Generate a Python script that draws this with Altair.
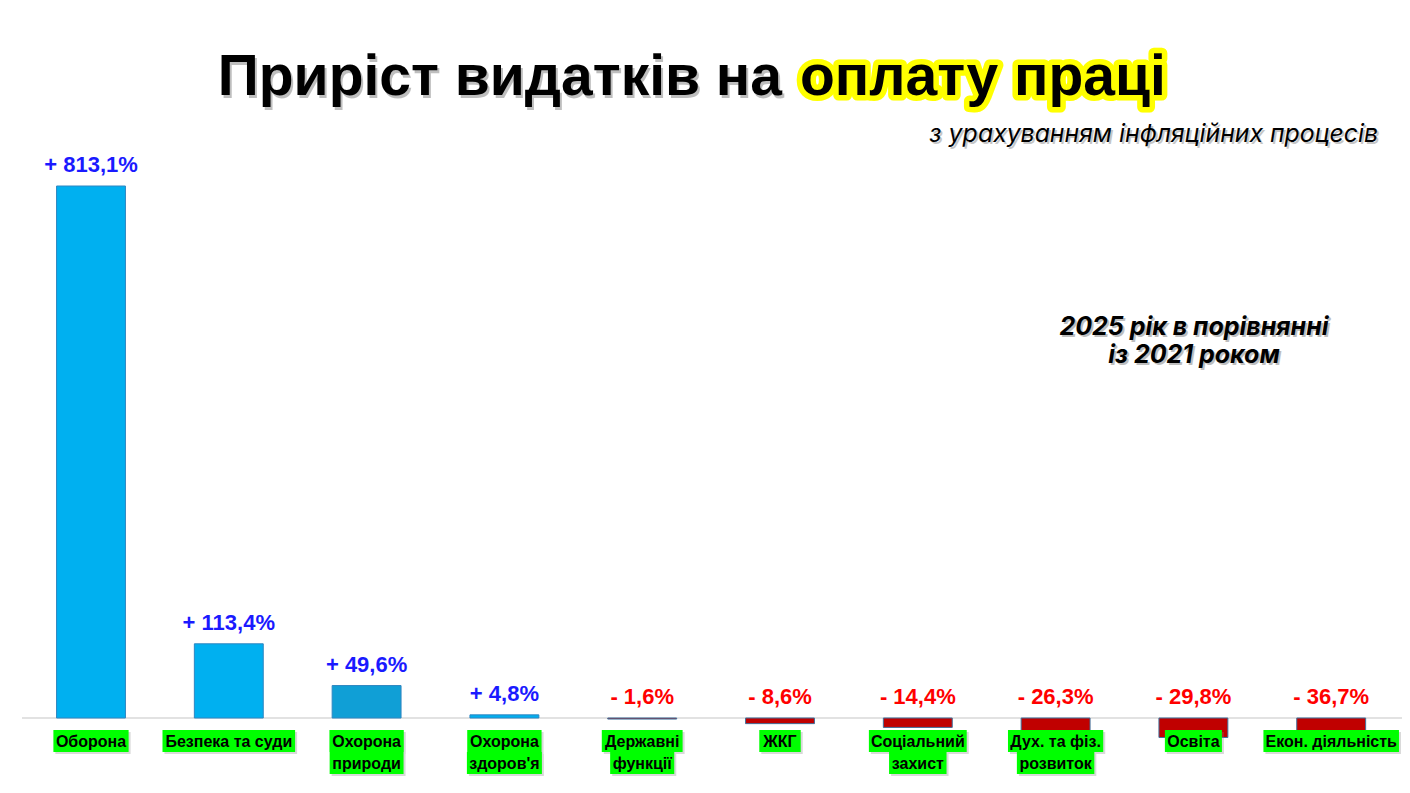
import altair as alt
import pandas as pd

# ---------------- data ----------------
categories = ["Оборона", "Безпека та суди", "Охорона природи", "Охорона здоров'я",
              "Державні функції", "ЖКГ", "Соціальний захист", "Дух. та фіз. розвиток",
              "Освіта", "Екон. діяльність"]
label_lines = [["Оборона"], ["Безпека та суди"], ["Охорона", "природи"], ["Охорона", "здоров'я"],
               ["Державні", "функції"], ["ЖКГ"], ["Соціальний", "захист"], ["Дух. та фіз.", "розвиток"],
               ["Освіта"], ["Екон. діяльність"]]
values = [813.1, 113.4, 49.6, 4.8, -1.6, -8.6, -14.4, -26.3, -29.8, -36.7]
value_labels = ["+ 813,1%", "+ 113,4%", "+ 49,6%", "+ 4,8%", "- 1,6%", "- 8,6%",
                "- 14,4%", "- 26,3%", "- 29,8%", "- 36,7%"]
bar_colors = ["#00b0f0", "#00b0f0", "#109fd6", "#00b0f0", "#c00000", "#c00000",
              "#c00000", "#c00000", "#c00000", "#c00000"]
title_main = "Приріст видатків на"
title_highlight = "оплату праці"
subtitle = "з урахуванням інфляційних процесів"
note_lines = ["2025 рік в порівнянні", "із 2021 роком"]

# ---------------- layout / style ----------------
W, H = 1394, 777
STEP = 137.8                      # px per category
X0 = -(91 - 8) / STEP
xs = alt.Scale(domain=[X0, X0 + W / STEP], nice=False, zero=False)
PX_PER_UNIT = (718 - 186) / 813.1
Y_TOP = 813.1 + (186 - 8) / PX_PER_UNIT
Y_BOT = -(785 - 718) / PX_PER_UNIT
ys = alt.Scale(domain=[Y_BOT, Y_TOP], nice=False, zero=False)

SANS = "Liberation Sans, Arial, sans-serif"
INTER = "Inter, Roboto, sans-serif"

EM = {"О": .778, "Б": .722, "Е": .667, "Д": .722, "Ж": .944, "К": .722, "Г": .611, "С": .722,
      "а": .556, "б": .611, "в": .584, "г": .41, "д": .64, "е": .556, "ж": .82, "з": .5,
      "и": .611, "й": .611, "к": .5, "л": .611, "м": .72, "н": .611, "о": .611, "п": .611,
      "р": .611, "с": .556, "т": .5, "у": .556, "ф": .86, "х": .556, "ц": .611, "ч": .58,
      "ь": .58, "ю": .86, "я": .58, "і": .278, "ї": .278, " ": .278, ".": .278, "'": .238}


def text_px(s, size):
    return sum(EM.get(ch, 0.6) for ch in s) * size


df = pd.DataFrame({
    "idx": list(range(len(categories))),
    "cat": categories,
    "value": values,
    "vlabel": value_labels,
    "fill": bar_colors,
})
df["stroke"] = ["#2e86c1" if v > 0 else "#41719c" for v in values]
df["tcolor"] = ["#1a1aff" if v > 0 else "#ff0000" for v in values]

rows = []
for i, lines in enumerate(label_lines):
    for j, t in enumerate(lines):
        half = (text_px(t, 16) + 5) / 2 / STEP
        rows.append({"idx": i, "line": j + 1, "text": t, "bx0": i - half, "bx1": i + half})
ldf = pd.DataFrame(rows)

base = alt.Chart(df)

bars = base.mark_bar(strokeWidth=1).encode(
    x=alt.X("x0:Q", scale=xs, axis=None),
    x2="x1:Q",
    y=alt.Y("value:Q", scale=ys, axis=None),
    y2="zero:Q",
    color=alt.Color("fill:N", scale=None),
    stroke=alt.Stroke("stroke:N", scale=None),
).transform_calculate(x0="datum.idx - 0.25", x1="datum.idx + 0.25", zero="0")

zero_line = alt.Chart(pd.DataFrame({"z": [0]})).mark_rule(color="#d9d9d9", strokeWidth=1.5).encode(
    y=alt.Y("z:Q", scale=ys, axis=None), x=alt.value(14), x2=alt.value(1394))

vlabels = base.mark_text(font=SANS, fontSize=22, fontWeight="bold", dy=-21, baseline="middle").encode(
    x=alt.X("idx:Q", scale=xs, axis=None),
    y=alt.Y("ly:Q", scale=ys, axis=None),
    text="vlabel:N",
    color=alt.Color("tcolor:N", scale=None),
).transform_calculate(ly="max(datum.value, 0)")

label_layers = []
for line in (1, 2):
    top = 722 + 22 * (line - 1)
    lb = alt.Chart(ldf).transform_filter(f"datum.line == {line}")
    label_layers.append(lb.mark_rect(color="#808080", opacity=0.3, xOffset=2, x2Offset=2, yOffset=2, y2Offset=2).encode(
        x=alt.X("bx0:Q", scale=xs, axis=None), x2="bx1:Q", y=alt.value(top), y2=alt.value(top + 22)))
    label_layers.append(lb.mark_rect(color="#00ff00").encode(
        x=alt.X("bx0:Q", scale=xs, axis=None), x2="bx1:Q", y=alt.value(top), y2=alt.value(top + 22)))
    label_layers.append(lb.mark_text(font=SANS, fontSize=16, fontWeight="bold", baseline="middle", color="black").encode(
        x=alt.X("idx:Q", scale=xs, axis=None), y=alt.value(top + 11.5), text="text:N"))

one = pd.DataFrame({"k": [0]})


def txt(text, x, y, **kw):
    return alt.Chart(one).mark_text(text=text, **kw).encode(x=alt.value(x), y=alt.value(y))


TY = 87
title_layers = [
    txt(title_main, 776, TY + 2.5, font=SANS, fontSize=57, fontWeight="bold", align="right", baseline="alphabetic", color="#000000", opacity=0.25),
    txt(title_highlight, 794, TY + 2.5, font=SANS, fontSize=57, fontWeight="bold", align="left", baseline="alphabetic", color="#000000", opacity=0.25),
    txt(title_highlight, 792, TY, font=SANS, fontSize=57, fontWeight="bold", align="left", baseline="alphabetic", color="#ffff00", stroke="#ffff00", strokeWidth=11, strokeJoin="round"),
    txt(title_main, 774, TY, font=SANS, fontSize=57, fontWeight="bold", align="right", baseline="alphabetic", color="#000000"),
    txt(title_highlight, 792, TY, font=SANS, fontSize=57, fontWeight="bold", align="left", baseline="alphabetic", color="#000000"),
    txt(subtitle, 1372, 136, font=INTER, fontSize=24.8, fontStyle="italic", align="right", baseline="alphabetic", color="#000000", opacity=0.22),
    txt(subtitle, 1370, 134, font=INTER, fontSize=24.8, fontStyle="italic", align="right", baseline="alphabetic", color="#000000"),
    txt(note_lines, 1188, 329, font=INTER, fontSize=25, fontStyle="italic", fontWeight="bold", align="center", baseline="alphabetic", lineHeight=28, color="#000000", opacity=0.25),
    txt(note_lines, 1186, 327, font=INTER, fontSize=25, fontStyle="italic", fontWeight="bold", align="center", baseline="alphabetic", lineHeight=28, color="#000000"),
]

chart = alt.layer(zero_line, bars, vlabels, *label_layers, *title_layers).properties(
    width=W, height=H, padding=0, autosize=alt.AutoSizeParams(type="none"), background="white"
).configure_view(stroke=None)

chart.save("out.html", embed_options={"renderer": "svg", "actions": False})
